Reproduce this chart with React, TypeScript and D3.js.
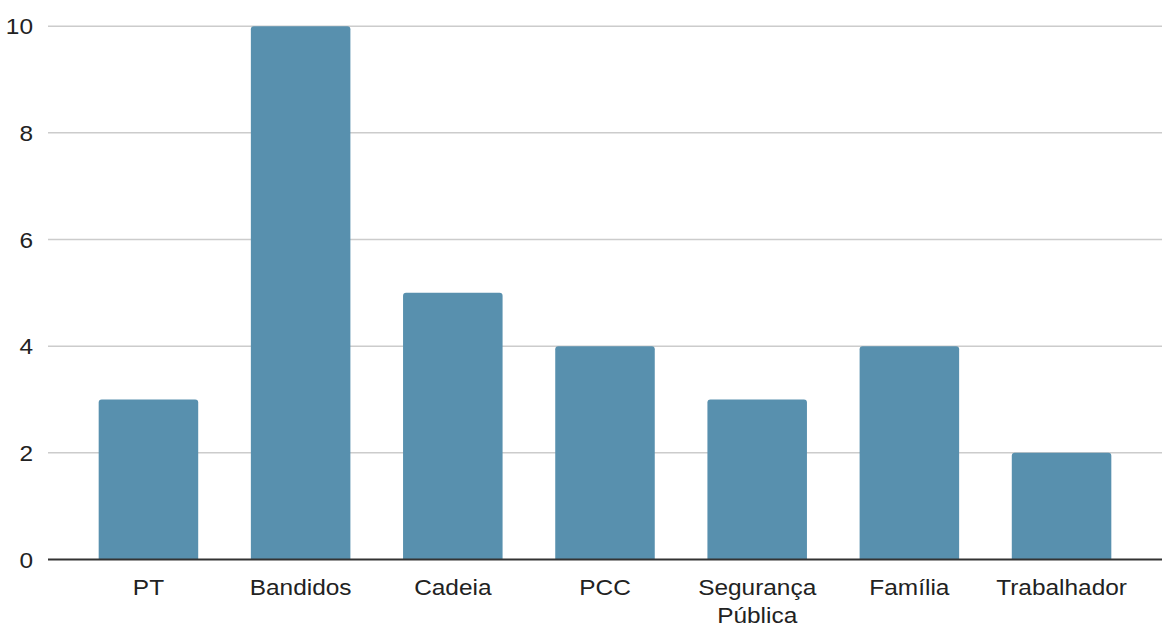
import React from "react";
import * as d3 from "d3";

const categories = ["PT", "Bandidos", "Cadeia", "PCC", "Segurança Pública", "Família", "Trabalhador"];
const counts = [3, 10, 5, 4, 3, 4, 2];
const yTicks = [0, 2, 4, 6, 8, 10];

const W = 1162;
const H = 627;
const FONT = "'Liberation Sans', Arial, sans-serif";
const SX = 1.11;

function topRoundedRect(x: number, y: number, w: number, h: number, r: number) {
  const rr = Math.min(r, h / 2, w / 2);
  return `M${x},${y + h}V${y + rr}Q${x},${y} ${x + rr},${y}H${x + w - rr}Q${x + w},${y} ${x + w},${y + rr}V${y + h}Z`;
}

export default function App() {
  const x = d3
    .scaleBand<string>()
    .domain(categories)
    .range([48, 1162])
    .paddingInner(0.346)
    .paddingOuter(0.333);
  const y = d3.scaleLinear().domain([0, 10]).range([559.5, 26.2]);

  return (
    <svg
      width={W}
      height={H}
      style={{ position: "absolute", left: 0, top: 0, background: "#fff" }}
      fontFamily={FONT}
    >
      {yTicks.filter((t) => t !== 0).map((t) => (
        <line key={"g" + t} x1={48} x2={W} y1={y(t)} y2={y(t)} stroke="#cccccc" strokeWidth={1.5} />
      ))}
      {yTicks.map((t) => (
        <text
          key={"t" + t}
          transform={`translate(33,${y(t) + 8}) scale(${SX},1)`}
          textAnchor="end"
          fontSize={22}
          fill="#222"
        >
          {t}
        </text>
      ))}
      {categories.map((c, i) => {
        const x0 = x(c)!;
        const y0 = y(counts[i]);
        return (
          <path
            key={c}
            d={topRoundedRect(x0, y0, x.bandwidth(), y(0) - y0, 3)}
            fill="#5890ae"
          />
        );
      })}
      <line x1={48} x2={W} y1={y(0)} y2={y(0)} stroke="#333" strokeWidth={2} />
      {categories.map((c) => {
        const cx = x(c)! + x.bandwidth() / 2;
        const lines = c.includes(" ") ? c.split(" ") : [c];
        return lines.map((ln, j) => (
          <text
            key={c + j}
            transform={`translate(${cx},${595 + j * 27.5}) scale(${SX},1)`}
            textAnchor="middle"
            fontSize={22}
            fill="#222"
          >
            {ln}
          </text>
        ));
      })}
    </svg>
  );
}
